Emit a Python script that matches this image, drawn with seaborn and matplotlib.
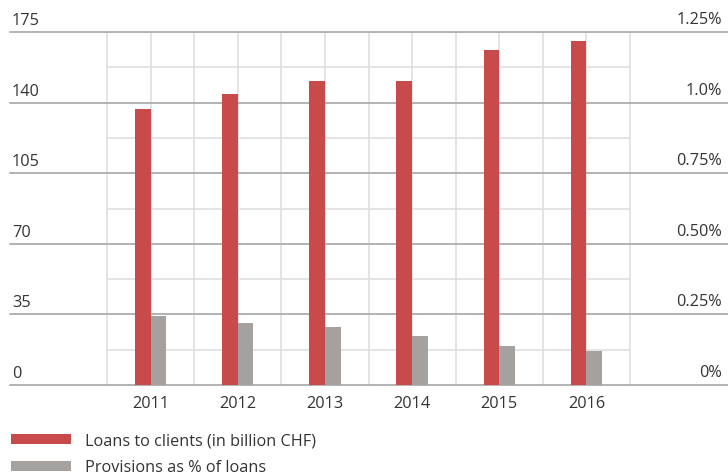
import numpy as np
import pandas as pd
import matplotlib
matplotlib.use("Agg")
import matplotlib.pyplot as plt
from matplotlib.patches import Patch
from matplotlib.transforms import ScaledTranslation, blended_transform_factory
import seaborn as sns

# Data
years = ["2011", "2012", "2013", "2014", "2015", "2016"]
loans_bn_chf = [136.8, 144.2, 150.7, 150.6, 166.1, 170.5]
provisions_pct = [0.245, 0.22, 0.207, 0.172, 0.137, 0.122]
left_ticks = [0, 35, 70, 105, 140, 175]
right_ticks = [0, 0.25, 0.50, 0.75, 1.0, 1.25]
right_tick_labels = ["0%", "0.25%", "0.50%", "0.75%", "1.0%", "1.25%"]
legend_labels = ["Loans to clients (in billion CHF)", "Provisions as % of loans"]

RED = "#c84a4a"
GREY = "#a5a19e"
MAJOR = "#b2b2b2"
MINOR = "#dfdfdf"
TEXT = "#333333"
FS = 11.7

sns.set_theme(style="white")
plt.rcParams["font.family"] = ["Open Sans", "DejaVu Sans"]

W, H = 728, 477
fig = plt.figure(figsize=(W / 100, H / 100), dpi=100)
ax = fig.add_axes([10 / W, (H - 386) / H, (728 - 10) / W, (386 - 33) / H])
ax2 = ax.twinx()

bar_w = 0.18
pos = np.arange(len(years))
df = pd.DataFrame({
    "x_loans": pos - bar_w / 2,
    "x_prov": pos + bar_w / 2,
    "loans": loans_bn_chf,
    "prov": provisions_pct,
})

sns.barplot(data=df, x="x_loans", y="loans", native_scale=True, width=bar_w,
            color=RED, saturation=1, ax=ax, zorder=3, linewidth=0)
sns.barplot(data=df, x="x_prov", y="prov", native_scale=True, width=bar_w,
            color=GREY, saturation=1, ax=ax2, zorder=3, linewidth=0)

ax.set_xlim(-1.613, 6.624)
ax.set_ylim(0, 175)
ax2.set_ylim(0, 1.25)

for a in (ax, ax2):
    for s in a.spines.values():
        s.set_visible(False)
    a.set_xlabel("")
    a.set_ylabel("")
    a.set_yticks([])

# grid: full-width major lines, light lines inside the plot block
for v in left_ticks:
    ax.axhline(v, color=MAJOR, lw=1.4, zorder=1, clip_on=False)
ax.hlines(np.arange(17.5, 175, 35), -0.5, 5.5, color=MINOR, lw=1.2, zorder=0.5)
ax.vlines(np.arange(-0.5, 5.51, 0.5), 0, 175, color=MINOR, lw=1.2, zorder=0.5)

# x tick labels
ax.set_xticks(pos, years)
ax.tick_params(axis="x", length=0, pad=7.5, labelsize=FS, labelcolor=TEXT)

# value labels sitting above the major lines
left_tr = blended_transform_factory(ax.transAxes, ax.transData)
for v in left_ticks:
    ax.text(2 / 718, v, str(v),
            transform=left_tr + ScaledTranslation(0, 8 / 100, fig.dpi_scale_trans),
            ha="left", va="baseline", fontsize=FS, color=TEXT)
right_tr = blended_transform_factory(ax2.transAxes, ax2.transData)
for v, lab in zip(right_ticks, right_tick_labels):
    ax2.text(1 - 6 / 718, v, lab,
             transform=right_tr + ScaledTranslation(0, 9 / 100, fig.dpi_scale_trans),
             ha="right", va="baseline", fontsize=FS, color=TEXT)

handles = [Patch(facecolor=RED, edgecolor="none"), Patch(facecolor=GREY, edgecolor="none")]
fs_px = FS * 100 / 72
fig.legend(handles, legend_labels, loc="upper left",
           bbox_to_anchor=(11 / W, 1 - 433.5 / H), frameon=False,
           fontsize=FS, labelcolor=TEXT,
           handlelength=60 / fs_px, handleheight=10 / fs_px,
           handletextpad=14 / fs_px, labelspacing=11 / fs_px,
           borderpad=0, borderaxespad=0)

fig.savefig("out.png", dpi=100)
